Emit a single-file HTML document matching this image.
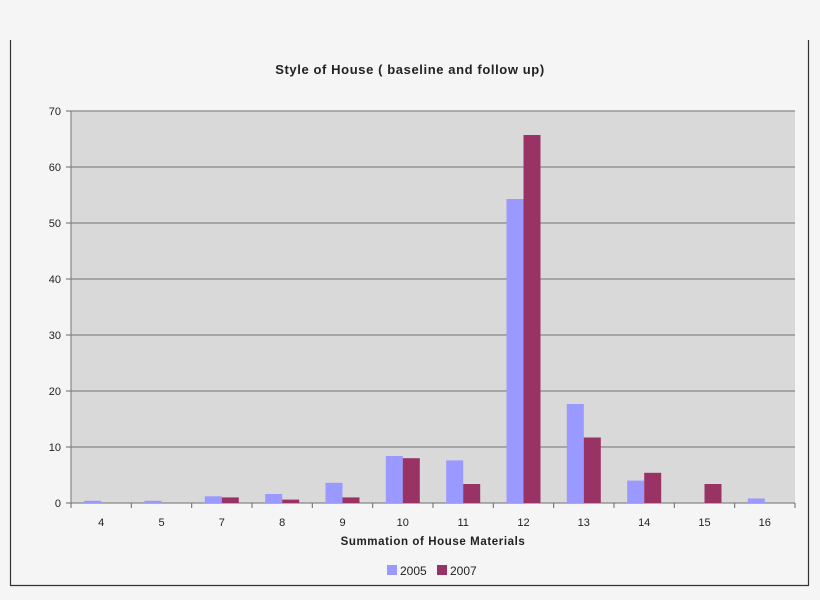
<!DOCTYPE html>
<html><head><meta charset="utf-8"><style>
body{margin:0;background:#f5f5f5;}
svg{display:block;font-family:"Liberation Sans",sans-serif;}
</style></head><body>
<svg width="820" height="600" viewBox="0 0 820 600">
<rect width="820" height="600" fill="#f5f5f5"/>
<line x1="10.5" y1="40" x2="10.5" y2="586" stroke="#333" stroke-width="1.2"/>
<line x1="808.5" y1="40" x2="808.5" y2="586" stroke="#333" stroke-width="1.2"/>
<line x1="10" y1="585.5" x2="809" y2="585.5" stroke="#333" stroke-width="1.2"/>
<text x="410" y="74" text-anchor="middle" font-size="13" font-weight="bold" fill="#222" letter-spacing="0.6">Style of House ( baseline and follow up)</text>
<rect x="71" y="111" width="724" height="392" fill="#d9d9d9"/>
<g stroke="#888" stroke-width="1.2">
<line x1="71" y1="111" x2="795" y2="111"/>
<line x1="71" y1="167" x2="795" y2="167"/>
<line x1="71" y1="223" x2="795" y2="223"/>
<line x1="71" y1="279" x2="795" y2="279"/>
<line x1="71" y1="335" x2="795" y2="335"/>
<line x1="71" y1="391" x2="795" y2="391"/>
<line x1="71" y1="447" x2="795" y2="447"/>
<line x1="71" y1="503" x2="795" y2="503"/>
<line x1="71" y1="111" x2="71" y2="503"/>
</g>
<g stroke="#666" stroke-width="1">
<line x1="66" y1="111" x2="71" y2="111"/><line x1="66" y1="167" x2="71" y2="167"/><line x1="66" y1="223" x2="71" y2="223"/><line x1="66" y1="279" x2="71" y2="279"/><line x1="66" y1="335" x2="71" y2="335"/><line x1="66" y1="391" x2="71" y2="391"/><line x1="66" y1="447" x2="71" y2="447"/><line x1="66" y1="503" x2="71" y2="503"/>
<line x1="71" y1="503" x2="71" y2="508"/><line x1="131.3" y1="503" x2="131.3" y2="508"/><line x1="191.7" y1="503" x2="191.7" y2="508"/><line x1="252" y1="503" x2="252" y2="508"/><line x1="312.3" y1="503" x2="312.3" y2="508"/><line x1="372.7" y1="503" x2="372.7" y2="508"/><line x1="433" y1="503" x2="433" y2="508"/><line x1="493.3" y1="503" x2="493.3" y2="508"/><line x1="553.7" y1="503" x2="553.7" y2="508"/><line x1="614" y1="503" x2="614" y2="508"/><line x1="674.3" y1="503" x2="674.3" y2="508"/><line x1="734.7" y1="503" x2="734.7" y2="508"/><line x1="795" y1="503" x2="795" y2="508"/>
</g>
<g font-size="11" fill="#222" text-anchor="end">
<text x="61" y="115">70</text><text x="61" y="171">60</text><text x="61" y="227">50</text><text x="61" y="283">40</text><text x="61" y="339">30</text><text x="61" y="395">20</text><text x="61" y="451">10</text><text x="61" y="507">0</text>
</g>
<g font-size="11" fill="#222" text-anchor="middle">
<text x="101.2" y="526">4</text><text x="161.5" y="526">5</text><text x="221.8" y="526">7</text><text x="282.2" y="526">8</text><text x="342.5" y="526">9</text><text x="402.8" y="526">10</text><text x="463.2" y="526">11</text><text x="523.5" y="526">12</text><text x="583.8" y="526">13</text><text x="644.2" y="526">14</text><text x="704.5" y="526">15</text><text x="764.8" y="526">16</text>
</g>
<text x="433" y="545" text-anchor="middle" font-size="11.5" font-weight="bold" fill="#222" letter-spacing="0.6">Summation of House Materials</text>
<g fill="#9999ff">
<rect x="84.2" y="500.8" width="17" height="2.2"/>
<rect x="144.5" y="500.8" width="17" height="2.2"/>
<rect x="204.8" y="496.3" width="17" height="6.7"/>
<rect x="265.2" y="494" width="17" height="9"/>
<rect x="325.5" y="482.8" width="17" height="20.2"/>
<rect x="385.8" y="456" width="17" height="47"/>
<rect x="446.2" y="460.4" width="17" height="42.6"/>
<rect x="506.5" y="199" width="17" height="304"/>
<rect x="566.8" y="404" width="17" height="99"/>
<rect x="627.2" y="480.6" width="17" height="22.4"/>
<rect x="747.8" y="498.5" width="17" height="4.5"/>
</g>
<g fill="#993366">
<rect x="221.8" y="497.4" width="17" height="5.6"/>
<rect x="282.2" y="499.6" width="17" height="3.4"/>
<rect x="342.5" y="497.4" width="17" height="5.6"/>
<rect x="402.8" y="458.2" width="17" height="44.8"/>
<rect x="463.2" y="484" width="17" height="19"/>
<rect x="523.5" y="135" width="17" height="368"/>
<rect x="583.8" y="437.5" width="17" height="65.5"/>
<rect x="644.2" y="472.8" width="17" height="30.2"/>
<rect x="704.5" y="484" width="17" height="19"/>
</g>
<rect x="387" y="565" width="10" height="10" fill="#9999ff"/>
<text x="400" y="575" font-size="12" fill="#222">2005</text>
<rect x="437" y="565" width="10" height="10" fill="#993366"/>
<text x="450" y="575" font-size="12" fill="#222">2007</text>
</svg>
</body></html>
